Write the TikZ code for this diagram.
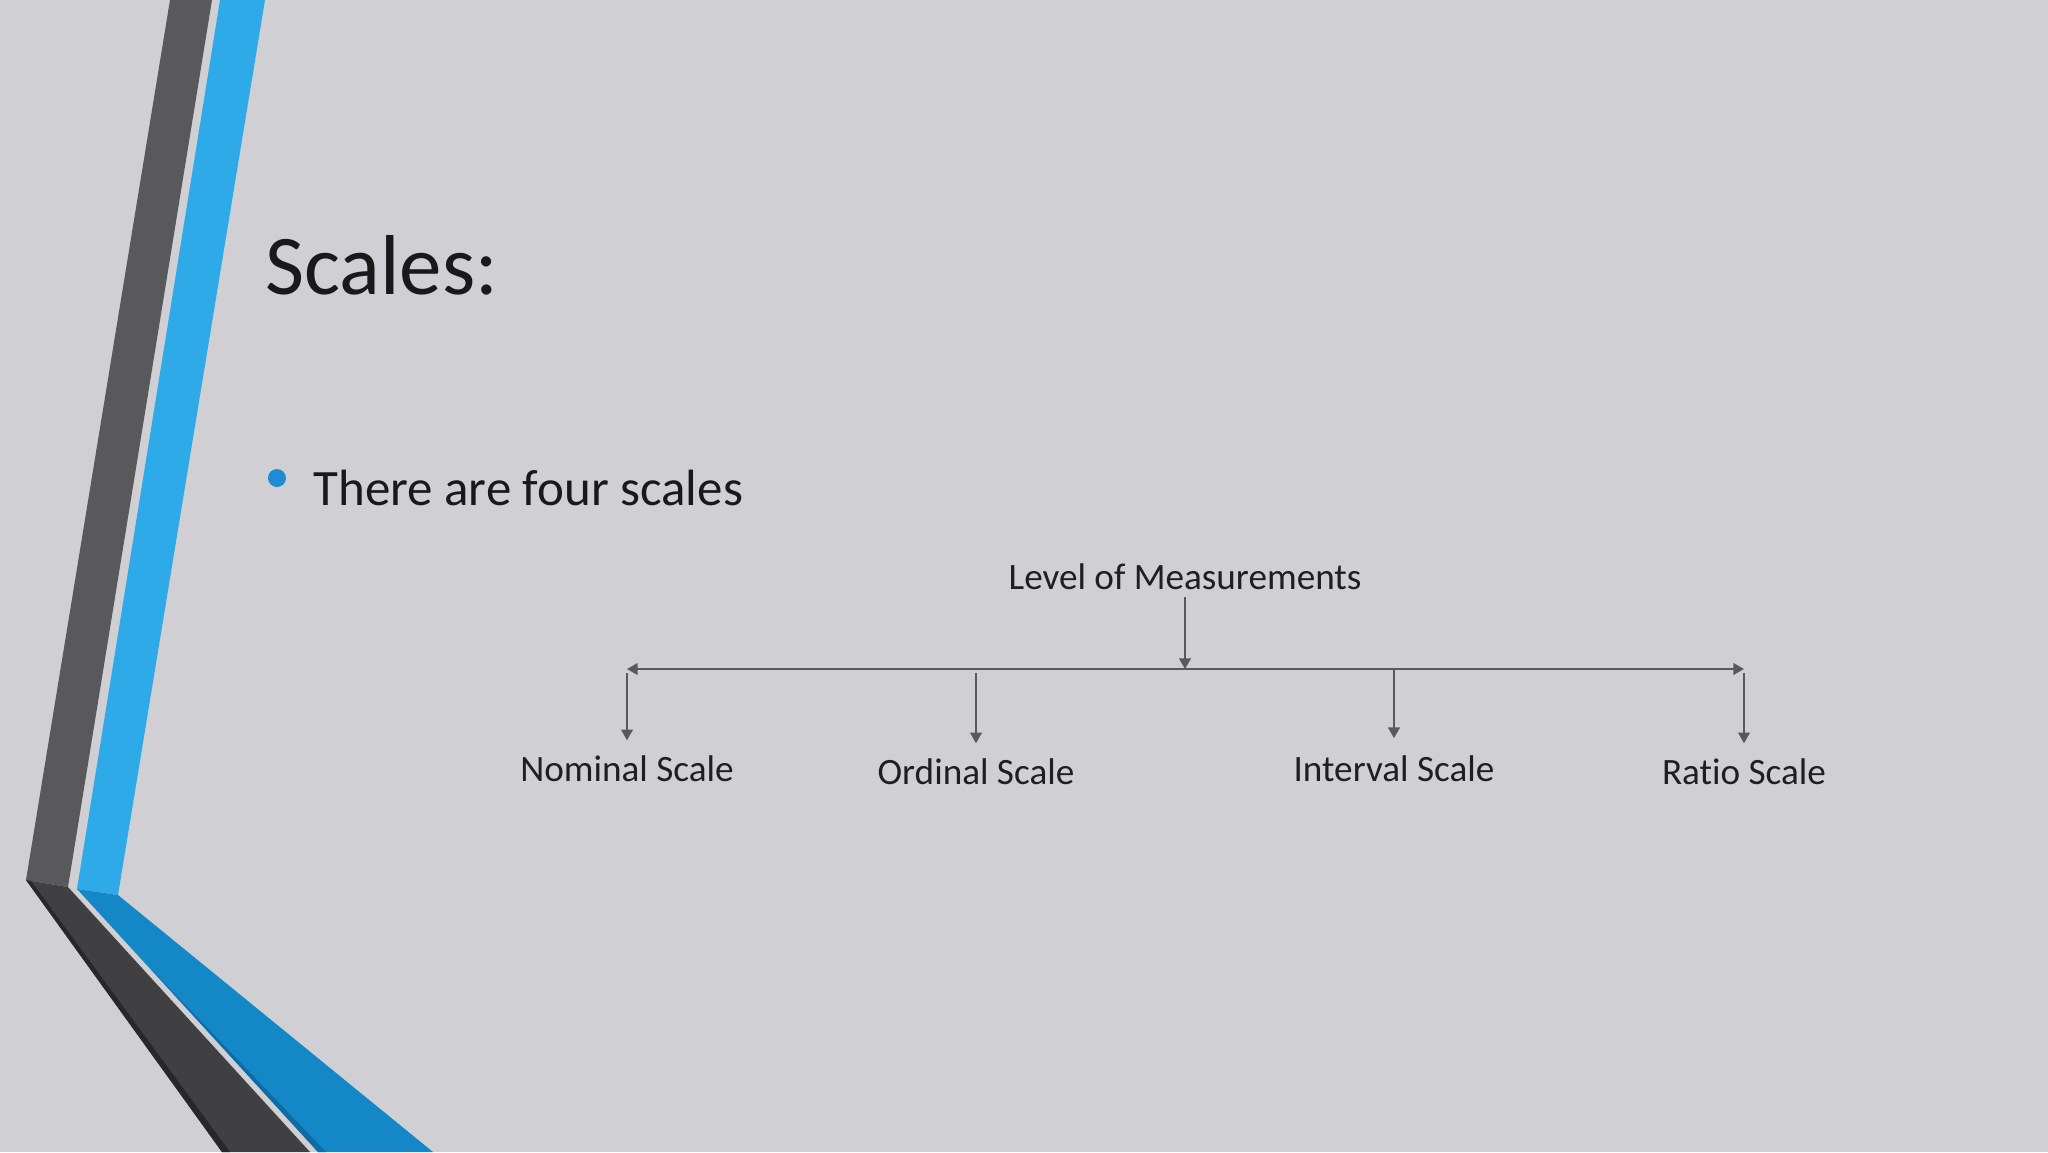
\documentclass[tikz,border=0pt]{standalone}
\usepackage{fontspec}
\setmainfont{Carlito}[Ligatures=NoCommon]
\usetikzlibrary{arrows.meta}

\definecolor{slidebg}{RGB}{208,208,212}
\definecolor{bandgrey}{RGB}{89,89,91}
\definecolor{banddark}{RGB}{64,64,66}
\definecolor{bandshade}{RGB}{40,40,42}
\definecolor{bandblue}{RGB}{46,170,232}
\definecolor{banddeep}{RGB}{20,135,198}
\definecolor{bandedge}{RGB}{14,108,165}
\definecolor{dotblue}{RGB}{30,140,210}
\definecolor{linegrey}{RGB}{89,89,91}

\tikzset{
  level/.style={font=\fontsize{17.5}{21}\selectfont, text=black!88},
  arr/.style={draw=linegrey, line width=0.9pt, -{Triangle[width=5.5pt,length=5pt]}},
  arrboth/.style={arr, {Triangle[width=5.5pt,length=5pt]}-{Triangle[width=5.5pt,length=5pt]}}
}

\begin{document}
\begin{tikzpicture}[x=0.016537cm, y=-0.016537cm]

% Background
\fill[slidebg] (0,0) rectangle (2048,1152);
\useasboundingbox (0,0) rectangle (2048,1152);

% Grey band
\fill[bandgrey] (170,0) -- (212,0) -- (68,887) -- (26,880) -- cycle;
\fill[banddark] (26,880) -- (68,887) -- (310,1152) -- (222,1152) -- cycle;
\fill[bandshade] (26,880) -- (31,881) -- (230,1152) -- (222,1152) -- cycle;

% Blue band
\fill[bandblue] (220,0) -- (265,0) -- (118,895) -- (77,889) -- cycle;
\fill[banddeep] (77,889) -- (118,895) -- (433,1152) -- (318,1152) -- cycle;
\fill[bandedge] (150,968) -- (326,1152) -- (318,1152) -- cycle;

% Title
\node[anchor=base west, inner sep=0, text=black!90,
      font=\fontsize{40}{48}\selectfont] (title) at (265,294) {Scales:};

% Bullet
\fill[dotblue] (277,478) circle (9);
\node[anchor=base west, inner sep=0, text=black!90,
      font=\fontsize{24}{29}\selectfont] (four) at (313,505) {There are four scales};

% Top of the tree
\node[level, anchor=base] (lvl) at (1185,589) {Level of Measurements};
\coordinate (hl) at (627,669);
\coordinate (hm) at (1185,669);
\coordinate (hr) at (1744,669);
\draw[arr] (lvl) -- (hm);
\draw[arrboth] (hl) -- (hr);

% Scales
\node[level, anchor=base] (nom) at (627,781) {Nominal Scale};
\node[level, anchor=base] (ord) at (976,784) {Ordinal Scale};
\node[level, anchor=base] (intv) at (1394,781) {Interval Scale};
\node[level, anchor=base] (ratio) at (1744,784) {Ratio Scale};

% Drops
\coordinate (d1) at (627,673);
\coordinate (d2) at (976,673);
\coordinate (d3) at (1394,669);
\coordinate (d4) at (1744,673);
\draw[arr, shorten >=3.5pt] (d1) -- (nom);
\draw[arr, shorten >=3.5pt] (d2) -- (ord);
\draw[arr, shorten >=4.5pt] (d3) -- (intv);
\draw[arr, shorten >=3.5pt] (d4) -- (ratio);

\end{tikzpicture}
\end{document}
